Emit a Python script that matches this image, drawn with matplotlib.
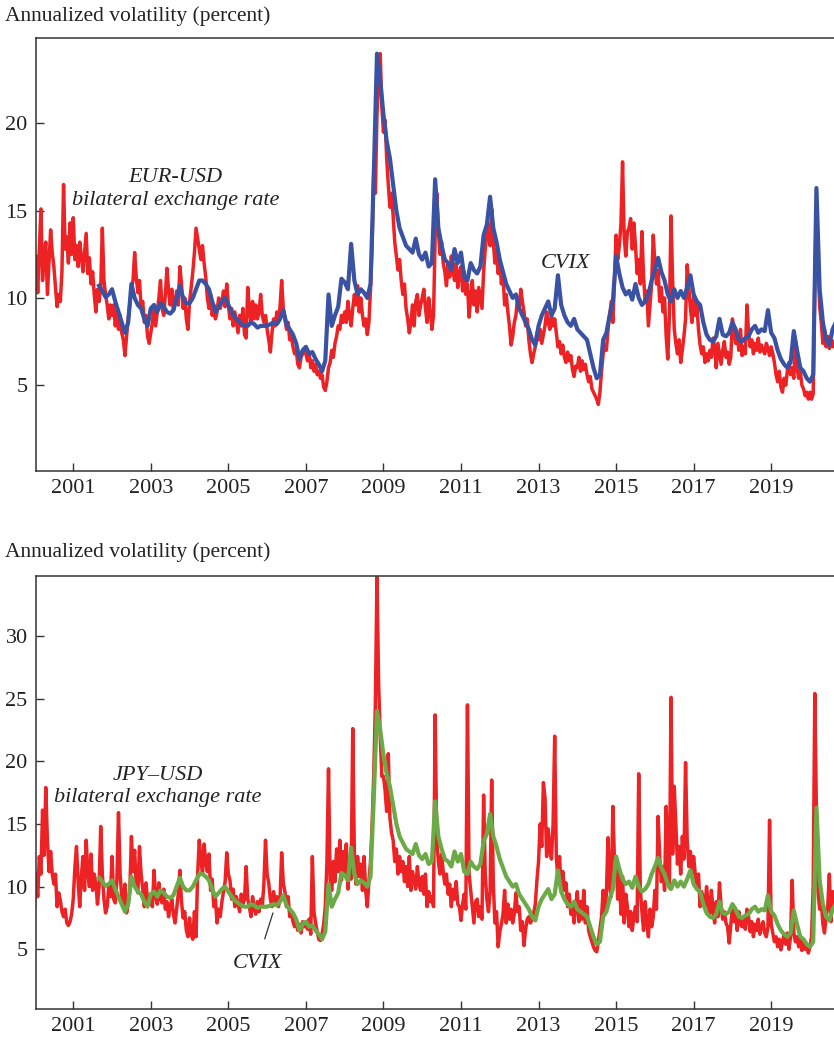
import matplotlib
matplotlib.use("Agg")
import matplotlib.pyplot as plt
import numpy as np

plt.rcParams['font.family'] = ['Liberation Serif', 'DejaVu Serif']

# EUR-USD implied vol, twice a month from Jan 2000
eur_usd = [
    11.5, 12.4, 10.3, 12.8, 15.1, 11.0, 12.5, 13.2, 10.2, 12.0, 13.9, 12.6, 11.8, 10.6, 9.5, 10.2, 9.8, 11.5, 16.5, 12.8, 13.5, 12.0, 14.3, 12.5,
    14.6, 12.2, 13.0, 11.8, 13.2, 12.4, 11.5, 12.6, 13.7, 11.4, 12.3, 10.8, 11.5, 10.2, 9.2, 10.5, 9.8, 10.6, 14.0, 11.0, 10.2, 9.6, 8.8, 9.6,
    9.0, 9.6, 8.4, 9.2, 8.2, 9.0, 8.0, 7.6, 6.7, 7.8, 8.8, 9.6, 10.5, 11.0, 12.6, 11.2, 10.3, 11.0, 9.5, 9.8, 8.6, 9.0, 7.8, 7.4,
    8.0, 8.6, 9.5, 8.4, 9.2, 10.0, 11.0, 9.4, 9.0, 10.2, 11.7, 10.4, 9.6, 10.5, 9.3, 9.8, 10.4, 9.6, 11.8, 10.8, 9.4, 10.0, 8.8, 8.2,
    9.8, 10.6, 11.5, 12.6, 14.0, 13.4, 12.8, 12.2, 13.0, 12.0, 11.2, 10.0, 9.4, 10.2, 9.0, 9.6, 8.8, 9.2, 10.0, 9.4, 9.8, 10.4, 9.5, 10.8,
    9.6, 8.8, 9.4, 8.4, 9.2, 8.6, 8.0, 9.0, 8.4, 9.4, 7.9, 7.7, 10.6, 9.4, 8.6, 9.8, 8.8, 9.6, 8.8, 9.2, 10.2, 9.0, 8.6, 9.0,
    8.2, 7.6, 6.9, 8.0, 8.8, 8.4, 9.2, 8.6, 9.5, 11.0, 9.4, 8.8, 8.2, 8.6, 7.6, 7.8, 7.2, 6.8, 7.0, 6.2, 6.0, 6.6, 6.8, 7.0,
    6.8, 6.4, 6.9, 6.0, 6.4, 5.8, 6.2, 5.6, 5.8, 5.4, 5.6, 4.9, 4.7, 5.2, 6.0, 6.3, 7.0, 6.6, 7.4, 7.8, 8.4, 8.2, 9.0, 8.6,
    9.2, 8.6, 9.8, 9.0, 8.4, 9.4, 10.2, 9.6, 10.7, 9.2, 10.0, 9.0, 8.4, 8.8, 7.9, 8.6, 10.5, 13.0, 17.2, 16.0, 20.5, 22.5, 24.0, 21.0,
    19.5, 20.2, 18.0, 16.5, 15.2, 16.0, 14.7, 13.2, 12.4, 11.6, 12.2, 11.0, 10.2, 10.8, 9.4, 8.8, 8.0, 8.6, 9.6, 8.4, 9.8, 10.2, 9.0, 9.6,
    10.0, 10.5, 9.4, 8.6, 10.0, 9.2, 8.2, 9.0, 13.5, 16.0, 13.8, 12.5, 13.2, 12.0, 11.5, 10.7, 12.0, 11.2, 12.4, 11.6, 11.0, 12.0, 10.6, 11.4,
    11.8, 10.4, 11.5, 10.2, 10.8, 8.9, 10.0, 11.0, 9.6, 10.4, 9.2, 10.6, 10.0, 9.4, 11.5, 12.8, 13.6, 14.2, 13.0, 15.1, 13.2, 12.0, 12.8, 11.4,
    12.2, 10.8, 11.4, 9.6, 10.2, 9.2, 8.4, 7.3, 7.8, 8.6, 9.0, 10.0, 9.4, 10.5, 9.8, 9.2, 8.4, 8.8, 7.6, 6.8, 6.3, 6.8, 7.2, 8.0,
    7.6, 8.2, 7.4, 7.9, 8.4, 9.2, 8.6, 8.2, 9.0, 8.4, 8.8, 8.0, 7.2, 7.5, 6.8, 7.3, 6.6, 6.3, 6.9, 6.4, 6.7, 5.9, 5.5, 6.1,
    6.0, 6.6, 5.8, 6.4, 5.9, 6.2, 5.6, 5.2, 5.5, 4.8, 4.6, 4.4, 4.2, 3.9, 4.6, 5.8, 6.8, 7.3, 7.0, 8.2, 9.0, 9.8, 8.6, 11.0,
    13.6, 12.2, 13.0, 14.2, 17.8, 13.5, 12.4, 13.8, 14.0, 14.55, 12.8, 14.3, 13.0, 11.4, 12.2, 10.8, 13.8, 11.2, 9.8, 10.4, 8.4, 9.6, 10.8, 13.6,
    12.0, 10.8, 11.6, 9.8, 10.6, 9.2, 10.0, 7.8, 6.5, 9.0, 14.7, 11.0, 8.2, 7.4, 6.8, 7.6, 6.3, 7.0, 7.8, 8.8, 11.9, 10.6, 9.4, 8.6,
    10.2, 9.0, 9.6, 8.2, 7.3, 6.8, 7.2, 6.3, 6.8, 6.4, 7.0, 6.6, 7.7, 7.2, 6.0, 7.4, 6.8, 6.2, 7.0, 7.5, 6.6, 6.9, 6.2, 6.6,
    8.8, 8.0, 7.4, 7.8, 7.0, 8.2, 6.7, 7.2, 6.8, 9.6, 8.0, 7.2, 7.6, 6.8, 7.4, 7.0, 7.7, 6.9, 7.3, 7.0, 6.8, 7.4, 7.1, 6.7,
    7.2, 6.8, 6.3, 5.6, 5.2, 5.8, 4.9, 4.6, 5.4, 5.0, 5.8, 6.3, 5.6, 6.0, 5.4, 7.5, 6.0, 5.4, 5.8, 5.0, 4.8, 4.4, 4.6, 4.2,
    4.6, 4.2, 4.5, 11.0, 15.2, 12.0, 9.5, 8.6, 7.4, 8.2, 7.2, 7.8, 7.1, 7.6, 7.2, 7.5,
]

# JPY-USD implied vol, twice a month from Jan 2000
jpy_usd = [
    8.4, 11.0, 9.2, 12.4, 11.0, 16.1, 12.5, 17.9, 13.7, 11.2, 12.8, 11.0, 10.2, 11.0, 8.4, 9.5, 8.9, 8.0, 7.6, 8.2, 7.1, 6.9, 7.2, 7.8,
    9.0, 11.5, 13.2, 10.4, 8.4, 10.8, 12.4, 9.7, 13.7, 11.2, 10.0, 12.6, 9.7, 11.0, 10.2, 8.6, 10.0, 14.8, 11.0, 9.0, 7.9, 8.4, 10.0, 9.2,
    12.4, 9.0, 8.7, 10.5, 15.9, 11.0, 9.2, 8.4, 10.2, 7.9, 8.6, 9.6, 14.0, 11.2, 12.9, 10.0, 9.5, 13.2, 11.0, 9.8, 8.4, 10.3, 9.0, 8.6,
    9.4, 8.4, 11.3, 9.2, 8.6, 10.3, 9.0, 8.7, 9.8, 8.2, 8.8, 7.6, 8.4, 9.0, 7.8, 7.1, 8.2, 9.4, 11.3, 8.8, 7.5, 8.0, 6.5, 6.0,
    7.5, 6.2, 5.8, 8.0, 6.0, 11.0, 13.7, 12.2, 11.0, 13.4, 12.0, 11.2, 12.6, 9.7, 10.6, 8.4, 9.0, 7.1, 8.2, 7.6, 8.8, 9.6, 10.4, 12.7,
    11.0, 10.5, 9.0, 9.8, 8.4, 9.2, 8.6, 8.0, 9.4, 8.6, 9.0, 11.6, 9.0, 8.4, 7.6, 9.2, 8.2, 7.8, 8.8, 8.0, 9.0, 8.4, 10.2, 13.7,
    11.0, 10.3, 9.0, 8.4, 9.6, 8.6, 9.2, 8.4, 9.0, 12.7, 10.3, 9.6, 8.4, 9.2, 7.6, 8.0, 7.2, 6.8, 7.4, 6.5, 7.0, 6.3, 7.2, 6.8,
    7.0, 6.6, 7.4, 6.2, 12.4, 8.0, 7.1, 6.4, 5.8, 5.7, 6.2, 7.0, 8.4, 11.9, 19.4, 10.5, 9.7, 12.0, 10.4, 13.0, 11.2, 13.7, 10.5, 12.8,
    11.0, 13.4, 9.8, 12.0, 10.6, 22.6, 12.6, 10.2, 12.4, 10.8, 11.8, 9.7, 12.4, 9.7, 8.4, 10.4, 12.0, 15.0, 19.0, 24.6, 34.7, 26.3, 22.0, 18.8,
    18.8, 17.7, 16.0, 20.6, 15.5, 14.3, 13.7, 12.0, 13.0, 11.0, 12.4, 11.2, 12.0, 10.4, 11.6, 10.0, 12.4, 9.7, 11.2, 10.5, 9.8, 11.6, 10.2, 9.7,
    10.8, 9.4, 11.0, 8.4, 9.6, 8.8, 9.2, 8.4, 23.7, 13.7, 12.0, 11.0, 12.6, 11.2, 10.2, 11.0, 9.4, 10.2, 8.4, 9.8, 9.0, 10.4, 8.6, 8.4,
    7.3, 8.6, 9.4, 8.2, 24.5, 11.0, 9.7, 8.4, 7.1, 8.8, 9.0, 7.6, 8.4, 7.4, 17.3, 11.0, 9.0, 8.0, 9.6, 18.5, 10.2, 7.1, 8.0, 5.2,
    6.4, 7.0, 7.8, 9.7, 7.1, 8.6, 7.4, 8.2, 7.1, 7.8, 9.5, 8.0, 8.4, 6.5, 7.2, 5.3, 6.6, 7.4, 7.6, 7.1, 7.4, 7.9, 8.6, 10.5,
    12.0, 15.0, 13.2, 18.3, 17.1, 12.4, 14.6, 13.0, 12.2, 15.0, 22.0, 12.4, 10.6, 12.4, 9.7, 11.2, 9.7, 10.3, 8.4, 9.4, 7.8, 8.6, 7.1, 8.4,
    9.6, 7.2, 8.8, 7.4, 9.7, 7.1, 8.4, 6.5, 6.0, 5.6, 5.2, 4.9, 4.8, 5.6, 6.6, 7.6, 9.7, 8.0, 9.4, 13.9, 10.0, 9.2, 16.4, 12.0,
    12.4, 9.0, 11.4, 7.8, 10.8, 7.1, 9.4, 8.4, 6.8, 8.0, 6.5, 7.6, 8.4, 7.2, 19.0, 9.7, 8.0, 6.5, 8.8, 7.2, 6.0, 8.2, 6.8, 7.6,
    9.7, 8.2, 15.6, 12.4, 10.4, 11.6, 9.7, 16.4, 12.0, 9.9, 25.1, 12.6, 18.0, 15.0, 11.8, 13.2, 11.0, 14.0, 12.2, 19.9, 13.7, 11.6, 12.8, 11.0,
    12.4, 11.0, 10.0, 11.0, 8.4, 9.6, 9.0, 8.4, 10.0, 8.6, 7.8, 9.7, 8.2, 7.1, 8.8, 7.6, 10.3, 8.4, 7.4, 8.0, 7.1, 6.8, 5.5, 7.0,
    8.4, 7.2, 7.8, 6.5, 8.0, 7.0, 6.8, 7.4, 6.6, 8.2, 7.6, 6.4, 7.2, 6.0, 7.0, 6.5, 7.4, 6.2, 6.8, 7.2, 6.3, 6.0, 6.8, 15.3,
    7.0, 6.3, 5.6, 6.0, 5.2, 5.8, 4.95, 5.6, 6.2, 5.4, 6.3, 5.0, 6.0, 10.5, 6.3, 5.6, 6.0, 5.2, 5.8, 4.9, 5.6, 5.0, 5.4, 4.7,
    5.2, 6.0, 10.0, 25.4, 16.0, 9.6, 8.2, 8.9, 7.0, 6.3, 7.6, 8.4, 11.0, 7.2, 9.6, 8.6,
]

# CVIX, monthly from Sep 2001
cvix = [
    10.7, 10.4, 10.05, 10.2,
    10.5, 9.8, 9.2, 8.6, 8.0, 8.6, 10.8, 10.0, 9.6, 9.4, 8.8, 8.4,
    9.4, 9.6, 9.2, 9.7, 9.5, 9.2, 9.1, 9.3, 10.0, 10.7, 10.0, 9.7,
    9.7, 10.0, 10.5, 11.0, 11.0, 10.8, 10.5, 9.8, 9.2, 9.5, 9.8, 10.0,
    9.6, 9.2, 8.9, 8.7, 8.5, 8.4, 8.4, 8.6, 8.5, 8.3, 8.4, 8.4,
    8.4, 8.5, 8.6, 8.5, 8.8, 9.3, 8.5, 8.2, 7.9, 7.4, 6.5, 7.0,
    7.2, 6.8, 6.9, 6.5, 6.2, 5.8, 6.4, 10.2, 8.4, 9.0, 9.5, 11.1,
    10.9, 10.5, 13.1, 11.0, 10.2, 10.5, 10.3, 10.0, 10.8, 17.0, 24.0, 22.5,
    20.5, 19.0, 18.0, 16.5, 15.0, 14.0, 13.5, 13.0, 12.8, 12.6, 13.4, 12.5,
    12.2, 12.6, 11.8, 12.0, 16.8, 14.0, 13.0, 12.2, 12.0, 11.6, 12.8, 12.0,
    12.6, 11.2, 11.0, 12.0, 11.6, 11.4, 11.8, 13.6, 14.2, 15.8, 14.0, 13.2,
    12.2, 11.5, 10.8, 10.4, 10.0, 10.2, 9.4, 9.0, 8.6, 8.2, 7.6, 7.3,
    8.4, 9.0, 9.4, 9.8, 9.0, 9.4, 11.3, 9.6, 9.0, 8.6, 8.4, 8.8,
    8.2, 8.0, 7.8, 7.6, 6.8, 6.0, 5.4, 5.6, 7.6, 8.0, 9.0, 9.8,
    12.4, 11.4, 10.6, 10.2, 10.4, 9.9, 10.8, 10.0, 9.6, 9.8, 10.2, 11.0,
    11.6, 12.3, 11.5, 11.0, 10.2, 9.8, 10.5, 10.0, 10.4, 10.0, 10.6, 11.3,
    10.2, 9.8, 9.6, 8.6, 7.9, 7.6, 7.5, 7.8, 8.8, 7.9, 7.8, 8.0,
    8.6, 8.2, 7.6, 7.5, 7.7, 7.8, 8.2, 8.4, 8.0, 8.2, 8.1, 9.3,
    8.0, 7.7, 7.0, 6.5, 6.2, 6.0, 6.3, 8.1, 7.0, 6.0, 5.8, 5.4,
    5.2, 5.6, 16.3, 10.5, 8.6, 7.6, 7.3, 8.2, 8.6,
]

t_fx = 2000 + np.arange(len(eur_usd)) / 24
t_jpy = 2000 + np.arange(len(jpy_usd)) / 24
t_cvix = 2001 + 8 / 12 + np.arange(len(cvix)) / 12

red = '#ED2224'
blue = '#3A52A3'
green = '#6BAA46'
tick_years = [2001, 2003, 2005, 2007, 2009, 2011, 2013, 2015, 2017, 2019]

fig = plt.figure(figsize=(8.34, 10.4), dpi=100)
ax1 = fig.add_axes([0.0432, 0.5474, 0.9568, 0.4161])
ax2 = fig.add_axes([0.0432, 0.0301, 0.9568, 0.4163])

ax1.plot(t_fx, eur_usd, color=red, lw=2.5, solid_joinstyle='round')
ax1.plot(t_cvix, cvix, color=blue, lw=3.0, solid_joinstyle='round')
ax2.plot(t_jpy, jpy_usd, color=red, lw=2.5, solid_joinstyle='round')
ax2.plot(t_cvix, cvix, color=green, lw=3.0, solid_joinstyle='round')

ax1.set_ylim(0.1, 24.9)
ax1.set_yticks([5, 10, 15, 20])
ax2.set_ylim(0.26, 34.8)
ax2.set_yticks([5, 10, 15, 20, 25, 30])

for ax in (ax1, ax2):
    ax.set_xlim(2000.04, 2020.62)
    ax.set_xticks(tick_years)
    ax.set_xticklabels([str(y) for y in tick_years])
    ax.spines['right'].set_visible(False)
    for s in ('left', 'bottom', 'top'):
        ax.spines[s].set_color('#333333')
        ax.spines[s].set_linewidth(1.1)
    ax.tick_params(direction='in', length=5.5, width=1.0, color='#333333',
                   labelsize=16, labelcolor='#222222', pad=6)

fig.text(0.006, 1 - 16 / 1040, 'Annualized volatility (percent)',
         fontsize=15.5, color='#222222', va='center', ha='left')
fig.text(0.006, 1 - 552 / 1040, 'Annualized volatility (percent)',
         fontsize=15.5, color='#222222', va='center', ha='left')

ax1.text(2003.62, 16.9, 'EUR-USD', style='italic', fontsize=16,
         ha='center', va='center', color='#222222')
ax1.text(2003.65, 15.6, 'bilateral exchange rate', style='italic', fontsize=16,
         ha='center', va='center', color='#222222')
ax1.text(2013.7, 12.0, 'CVIX', style='italic', fontsize=16,
         ha='center', va='center', color='#222222')

ax2.text(2003.17, 18.9, 'JPY\u2013USD', style='italic', fontsize=16,
         ha='center', va='center', color='#222222')
ax2.text(2003.17, 17.07, 'bilateral exchange rate', style='italic', fontsize=16,
         ha='center', va='center', color='#222222')
ax2.annotate('CVIX', xy=(2006.15, 7.9), xytext=(2005.74, 3.9),
             style='italic', fontsize=16, ha='center', va='center', color='#222222',
             arrowprops=dict(arrowstyle='-', color='#333333', lw=0.9,
                             shrinkA=9, shrinkB=0))

fig.savefig('out.png', dpi=100)
